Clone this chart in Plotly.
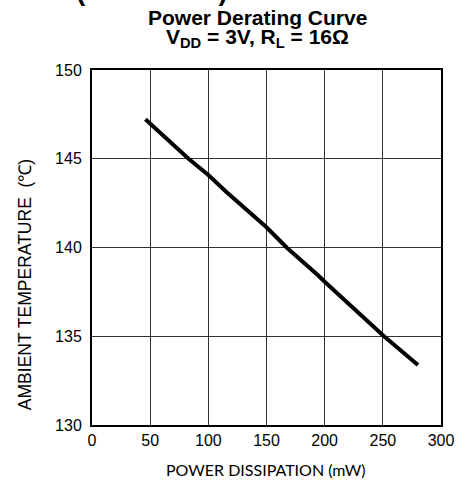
import plotly.graph_objects as go

# Data
power_mw = [45.9, 83.0, 100.0, 115.3, 150.0, 167.3, 194.0, 200.0, 251.0, 280.2]
temp_c = [147.22, 145.0, 144.08, 143.14, 141.14, 140.0, 138.45, 138.07, 135.0, 133.38]

x_ticks = [0, 50, 100, 150, 200, 250, 300]
y_ticks = [130, 135, 140, 145, 150]

W, H = 466, 487
ML, MR, MT, MB = 92, 19, 70, 62
pw = W - ML - MR
ph = H - MT - MB

def px_to_paper_x(px):
    return (px - ML) / pw

def px_to_paper_y(py):
    return (H - MB - py) / ph

fig = go.Figure()
fig.add_trace(go.Scatter(
    x=power_mw, y=temp_c, mode="lines",
    line=dict(color="black", width=4),
    showlegend=False, hoverinfo="skip",
))

font_main = "Liberation Sans, Arial, sans-serif"

fig.update_layout(
    width=W, height=H,
    margin=dict(l=ML, r=MR, t=MT, b=MB, pad=0),
    paper_bgcolor="white", plot_bgcolor="white",
    font=dict(family=font_main, color="black", size=16),
    xaxis=dict(
        range=[0, 300], tickvals=x_ticks, ticktext=[str(v) for v in x_ticks],
        showgrid=True, gridcolor="#333", gridwidth=1.2,
        showline=True, linecolor="black", linewidth=2, mirror=True,
        ticks="", zeroline=False,
        tickfont=dict(family=font_main, size=16, color="black"),
    ),
    yaxis=dict(
        range=[130, 150], tickvals=y_ticks, ticktext=[str(v) for v in y_ticks],
        showgrid=True, gridcolor="#333", gridwidth=1.2,
        showline=True, linecolor="black", linewidth=2, mirror=True,
        ticks="", zeroline=False, ticklabelstandoff=5,
        tickfont=dict(family=font_main, size=16, color="black"),
    ),
)

annotations = [
    # cropped page heading at the very top
    dict(text="<b>Typical Performance Curves (Continued)</b>", xref="paper", yref="paper",
         x=px_to_paper_x(232), y=px_to_paper_y(8), xanchor="right", yanchor="bottom",
         showarrow=False, font=dict(family=font_main, size=27, color="black")),
    dict(text="<b>Power Derating Curve</b>", xref="paper", yref="paper",
         x=px_to_paper_x(260), y=px_to_paper_y(18), xanchor="center", yanchor="middle",
         showarrow=False, font=dict(family=font_main, size=21, color="black")),
    dict(text="<b>V<sub>DD</sub> = 3V, R<sub>L</sub> = 16Ω</b>", xref="paper", yref="paper",
         x=px_to_paper_x(260), y=px_to_paper_y(38), xanchor="center", yanchor="middle",
         showarrow=False, font=dict(family=font_main, size=21, color="black")),
    dict(text="AMBIENT TEMPERATURE  (℃)", xref="paper", yref="paper",
         x=px_to_paper_x(24), y=px_to_paper_y(285), xanchor="center", yanchor="middle",
         textangle=-90, showarrow=False,
         font=dict(family=font_main, size=17.5, color="black")),
    dict(text="POWER DISSIPATION (mW)", xref="paper", yref="paper",
         x=px_to_paper_x(269), y=px_to_paper_y(469), xanchor="center", yanchor="middle",
         showarrow=False, font=dict(family="Lato, Carlito, sans-serif", size=16, color="black")),
]
fig.update_layout(annotations=annotations)

fig.write_html("out.html", config={"displayModeBar": False},
               post_script="document.body.style.margin='0px';")
